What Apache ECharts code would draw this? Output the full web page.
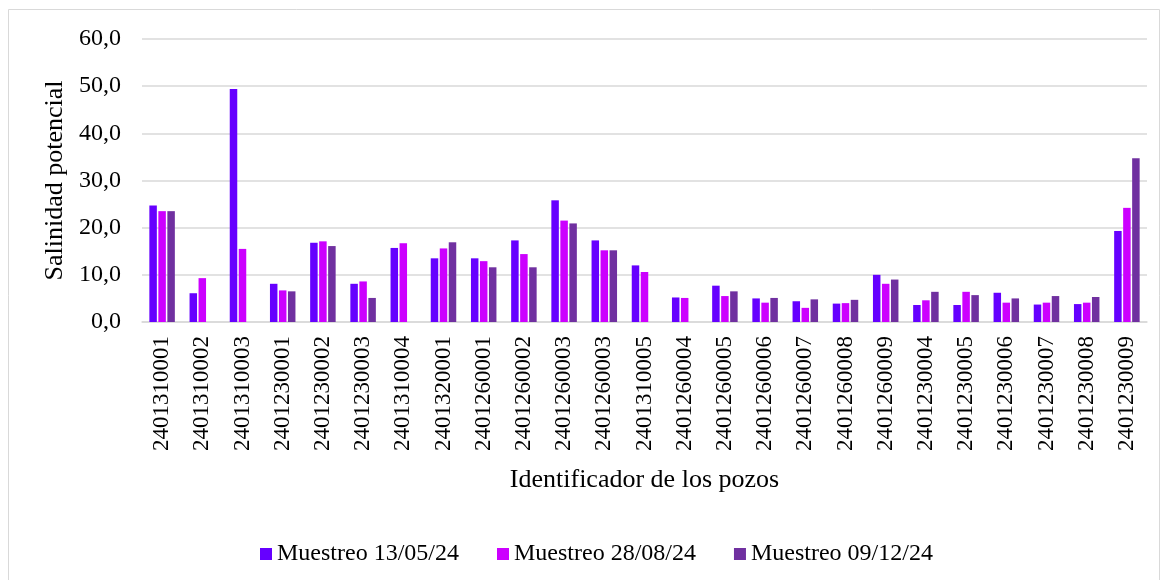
<!DOCTYPE html>
<html>
<head>
<meta charset="utf-8">
<script src="https://cdn.jsdelivr.net/npm/echarts@6/dist/echarts.min.js"></script>
<style>
  html, body { margin: 0; padding: 0; background: #fff; }
  #chart { width: 1163px; height: 580px; }
</style>
</head>
<body>
<div id="chart"></div>
<script>
// identificadores de los pozos (2401260003 aparece dos veces en el original)
const pozos = [
  '2401310001', '2401310002', '2401310003', '2401230001', '2401230002',
  '2401230003', '2401310004', '2401320001', '2401260001', '2401260002',
  '2401260003', '2401260003', '2401310005', '2401260004', '2401260005',
  '2401260006', '2401260007', '2401260008', '2401260009', '2401230004',
  '2401230005', '2401230006', '2401230007', '2401230008', '2401230009'
];
const muestreo1 = [24.7, 6.1, 49.4, 8.1, 16.8, 8.1, 15.7, 13.5, 13.5, 17.3, 25.8, 17.3, 12.0, 5.2, 7.7, 5.0, 4.4, 3.9, 10.0, 3.6, 3.6, 6.2, 3.7, 3.8, 19.3];
const muestreo2 = [23.5, 9.3, 15.5, 6.7, 17.1, 8.6, 16.7, 15.6, 12.9, 14.4, 21.5, 15.2, 10.6, 5.1, 5.5, 4.1, 3.0, 4.0, 8.1, 4.6, 6.4, 4.1, 4.1, 4.1, 24.2];
const muestreo3 = [23.5, '-', '-', 6.5, 16.1, 5.1, '-', 16.9, 11.6, 11.6, 20.9, 15.2, '-', '-', 6.5, 5.1, 4.8, 4.7, 9.0, 6.4, 5.7, 5.0, 5.5, 5.3, 34.7];
const nombres = ['Muestreo 13/05/24', 'Muestreo 28/08/24', 'Muestreo 09/12/24'];
const colores = ['#6600FF', '#CC00FF', '#7030A0'];

const fuente = '"Liberation Serif", "Times New Roman", serif';
let myChart = echarts.init(document.getElementById('chart'));

function serie(i, datos) {
    return {
        name: nombres[i],
        type: 'bar',
        data: datos,
        barWidth: 7.5,
        barGap: '20%',
        itemStyle: { color: colores[i] }
    };
}

myChart.setOption({
    animation: false,
    backgroundColor: '#fff',
    textStyle: { fontFamily: fuente, color: '#000' },
    graphic: [{
        type: 'rect',
        shape: { x: 8.5, y: 9.5, width: 1151, height: 580 },
        style: { fill: 'none', stroke: '#d9d9d9', lineWidth: 1 }
    }],
    grid: { left: 142, right: 16, top: 39, bottom: 258 },
    legend: {
        data: nombres,
        left: 255,
        top: 537,
        itemWidth: 12,
        itemHeight: 12,
        itemGap: 38,
        icon: 'rect',
        textStyle: { fontFamily: fuente, fontSize: 24, color: '#000' }
    },
    xAxis: {
        type: 'category',
        data: pozos,
        name: 'Identificador de los pozos',
        nameLocation: 'middle',
        nameGap: 145,
        nameTextStyle: { fontFamily: fuente, fontSize: 26, color: '#000' },
        axisLine: { lineStyle: { color: '#d9d9d9', width: 1.5 } },
        axisTick: { show: false },
        axisLabel: {
            interval: 0,
            rotate: 90,
            margin: 14,
            fontFamily: fuente,
            fontSize: 23,
            color: '#000'
        }
    },
    yAxis: {
        type: 'value',
        min: 0,
        max: 60,
        interval: 10,
        name: 'Salinidad potencial',
        nameLocation: 'middle',
        nameGap: 71,
        nameTextStyle: { fontFamily: fuente, fontSize: 26, color: '#000' },
        axisLine: { show: false },
        axisTick: { show: false },
        splitLine: { lineStyle: { color: '#d9d9d9', width: 1.5 } },
        axisLabel: {
            margin: 21,
            fontFamily: fuente,
            fontSize: 24,
            color: '#000',
            formatter: function (v) { return v.toFixed(1).replace('.', ','); }
        }
    },
    series: [
        serie(0, muestreo1),
        serie(1, muestreo2),
        serie(2, muestreo3)
    ]
});
</script>
</body>
</html>
